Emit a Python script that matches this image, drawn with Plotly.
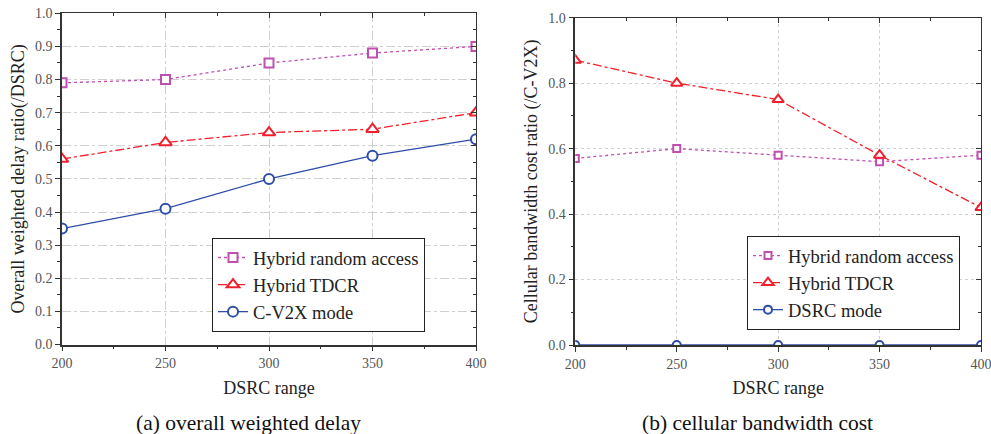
import plotly.graph_objects as go

dsrc_range = [200, 250, 300, 350, 400]
a_yticks = [0.0, 0.1, 0.2, 0.3, 0.4, 0.5, 0.6, 0.7, 0.8, 0.9, 1.0]
b_yticks = [0.0, 0.2, 0.4, 0.6, 0.8, 1.0]

# (a) overall weighted delay ratio (/DSRC)
a_random_access = [0.79, 0.80, 0.85, 0.88, 0.90]
a_tdcr = [0.56, 0.61, 0.64, 0.65, 0.70]
a_cv2x = [0.35, 0.41, 0.50, 0.57, 0.62]

# (b) cellular bandwidth cost ratio (/C-V2X)
b_random_access = [0.57, 0.60, 0.58, 0.56, 0.58]
b_tdcr = [0.87, 0.80, 0.75, 0.58, 0.42]
b_dsrc = [0.0, 0.0, 0.0, 0.0, 0.0]

MAG = "#C04FB2"
RED = "#F0202C"
BLUE = "#2E4DA7"
SERIF = "Liberation Serif"

W, H = 991, 434

def px_x(p):
    return p / W

def px_y(p):
    return 1 - p / H

fig = go.Figure()

def add_series(x, y, name, color, dash, symbol, msize, xa, ya, legend):
    fig.add_trace(go.Scatter(
        x=x, y=y, name=name, mode="lines+markers",
        line=dict(color=color, width=1.3, dash=dash),
        marker=dict(symbol=symbol, size=msize, color="white",
                    line=dict(color=color, width=2)),
        xaxis=xa, yaxis=ya, legend=legend,
    ))

add_series(dsrc_range, a_random_access, "Hybrid random access", MAG, "dot", "square", 9, "x", "y", "legend")
add_series(dsrc_range, a_tdcr, "Hybrid TDCR", RED, "dashdot", "triangle-up", 11, "x", "y", "legend")
add_series(dsrc_range, a_cv2x, "C-V2X mode", BLUE, "solid", "circle", 10, "x", "y", "legend")

add_series(dsrc_range, b_random_access, "Hybrid random access", MAG, "dot", "square", 7, "x2", "y2", "legend2")
add_series(dsrc_range, b_tdcr, "Hybrid TDCR", RED, "dashdot", "triangle-up", 10, "x2", "y2", "legend2")
add_series(dsrc_range, b_dsrc, "DSRC mode", BLUE, "solid", "circle", 8, "x2", "y2", "legend2")

# invisible helper traces for mirrored (inside) tick axes
for xa, ya, yv in [("x3", "y3", a_cv2x), ("x4", "y4", b_dsrc)]:
    fig.add_trace(go.Scatter(x=dsrc_range, y=yv, mode="lines", line=dict(width=0),
                             opacity=0, showlegend=False, hoverinfo="skip",
                             xaxis=xa, yaxis=ya))

tickfont = dict(family=SERIF, size=14, color="#555555")
titlefont = dict(family=SERIF, size=18, color="#222222")

dom_a_x = [px_x(62), px_x(476)]
dom_a_y = [px_y(344.5), px_y(13.3)]
dom_b_x = [px_x(575.3), px_x(981)]
dom_b_y = [px_y(345), px_y(17.7)]

GRID = "#D0D0D0"

def xaxis_cfg(dom, anchor, grid_dash):
    return dict(domain=dom, anchor=anchor, range=[200, 400], automargin=False,
                tickvals=dsrc_range, ticks="outside", ticklen=5, tickwidth=1.2,
                ticklabeloverflow="allow",
                tickcolor="#333333", showline=True, linecolor="#333333", linewidth=1.6,
                showgrid=True, gridcolor=GRID, gridwidth=1, griddash=grid_dash,
                tickfont=tickfont, zeroline=False,
                minor=dict(dtick=25, tick0=200, ticks="outside", ticklen=3, tickcolor="#333333", showgrid=False),
                title=dict(text="DSRC range", font=titlefont, standoff=11))

def yaxis_cfg(dom, anchor, tvals, minor_dtick, title, grid_dash):
    return dict(domain=dom, anchor=anchor, range=[0, 1.0], tickvals=tvals, automargin=False,
                tickformat=".1f", ticks="outside", ticklen=5, tickwidth=1.2,
                ticklabeloverflow="allow",
                tickcolor="#333333", showline=True, linecolor="#333333", linewidth=1.6,
                showgrid=True, gridcolor=GRID, gridwidth=1, griddash=grid_dash,
                tickfont=tickfont, zeroline=False,
                minor=dict(dtick=minor_dtick, tick0=0, ticks="outside", ticklen=3, tickcolor="#333333", showgrid=False),
                title=dict(text=title, font=titlefont, standoff=6))

def mirror_x(over, anchor):
    return dict(overlaying=over, anchor=anchor, side="top", range=[200, 400], automargin=False,
                tickvals=dsrc_range, ticks="inside", ticklen=5, tickcolor="#333333",
                showticklabels=False, showgrid=False, zeroline=False,
                showline=True, linecolor="#333333", linewidth=1.2,
                minor=dict(dtick=25, tick0=200, ticks="inside", ticklen=3, tickcolor="#333333"))

def mirror_y(over, anchor, tvals, minor_dtick):
    return dict(overlaying=over, anchor=anchor, side="right", range=[0, 1.0], automargin=False,
                tickvals=tvals, ticks="inside", ticklen=5, tickcolor="#333333",
                showticklabels=False, showgrid=False, zeroline=False,
                showline=True, linecolor="#333333", linewidth=1.2,
                minor=dict(dtick=minor_dtick, tick0=0, ticks="inside", ticklen=3, tickcolor="#333333"))

legend_common = dict(bgcolor="white", bordercolor="#222222", borderwidth=1,
                     font=dict(family=SERIF, size=18.5, color="#222222"),
                     xanchor="left", yanchor="top", tracegroupgap=0, itemwidth=30)

fig.update_layout(
    width=W, height=H, margin=dict(l=0, r=0, t=0, b=0, autoexpand=False),
    paper_bgcolor="white", plot_bgcolor="white",
    font=dict(family=SERIF),
    xaxis=xaxis_cfg(dom_a_x, "y", "dashdot"),
    yaxis=yaxis_cfg(dom_a_y, "x", a_yticks, 0.05, "Overall weighted delay ratio(/DSRC)", "dashdot"),
    xaxis2=xaxis_cfg(dom_b_x, "y2", "dot"),
    yaxis2=yaxis_cfg(dom_b_y, "x2", b_yticks, 0.1, "Cellular bandwidth cost ratio (/C-V2X)", "dot"),
    xaxis3=mirror_x("x", "y3"),
    yaxis3=mirror_y("y", "x3", a_yticks, 0.05),
    xaxis4=mirror_x("x2", "y4"),
    yaxis4=mirror_y("y2", "x4", b_yticks, 0.1),
    legend=dict(x=px_x(212), y=px_y(238), **legend_common),
    legend2=dict(x=px_x(747), y=px_y(236), **legend_common),
    showlegend=True,
    annotations=[
        dict(text="(a) overall weighted delay", x=px_x(248), y=px_y(423), xref="paper", yref="paper",
             xanchor="center", yanchor="middle",
             showarrow=False, font=dict(family=SERIF, size=21.5, color="#111111")),
        dict(text="(b) cellular bandwidth cost", x=px_x(757), y=px_y(423), xref="paper", yref="paper",
             xanchor="center", yanchor="middle",
             showarrow=False, font=dict(family=SERIF, size=21.5, color="#111111")),
    ],
)

fig.write_html("out.html",
               config={"displayModeBar": False},
               post_script="document.body.style.margin='0';document.body.style.overflow='hidden';")
